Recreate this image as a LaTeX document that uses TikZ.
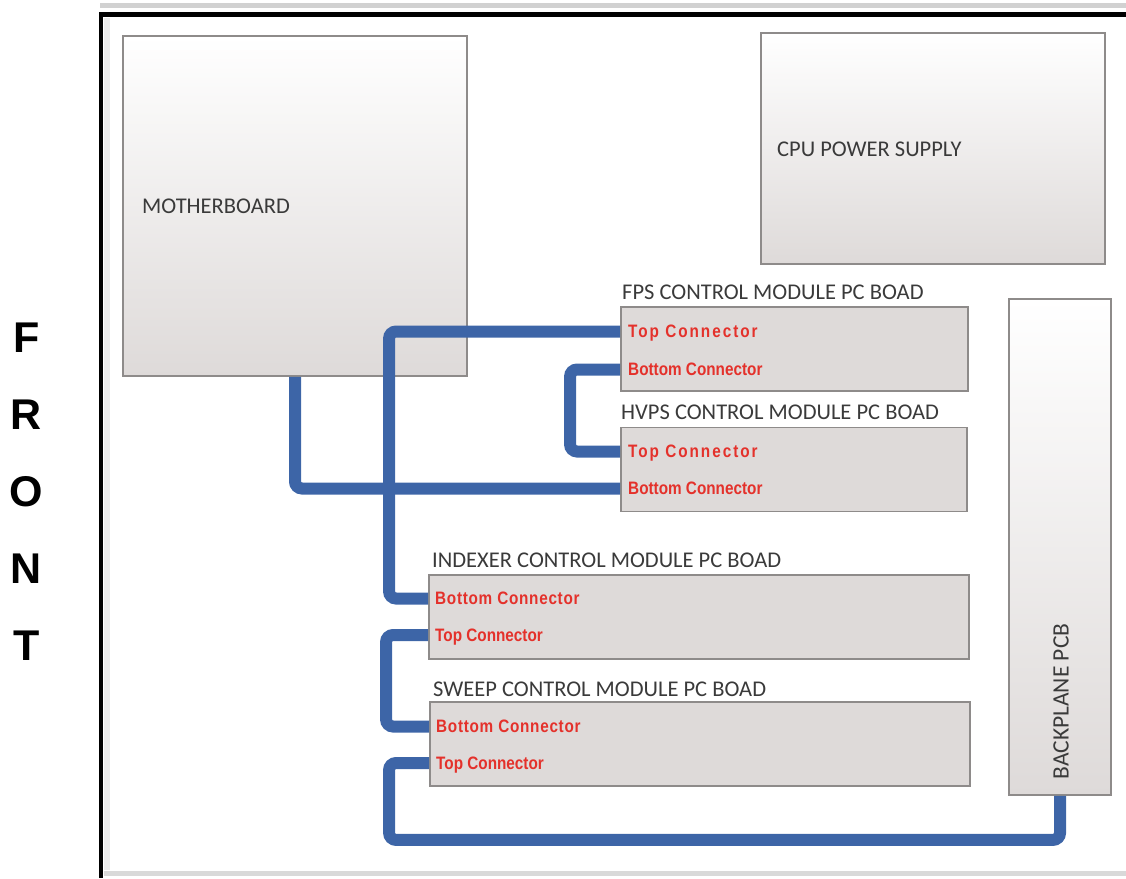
\documentclass[tikz,border=0pt]{standalone}
\usepackage{fontspec}
\setmainfont{Carlito}
\newfontfamily\chassisarial{Liberation Sans}[FakeStretch=0.85]
\newfontfamily\frontarial{Liberation Sans}
\usetikzlibrary{calc}
\definecolor{chassisblue}{HTML}{3D65A7}
\definecolor{chassisedge}{HTML}{8E8B8A}
\definecolor{chassisgrey}{HTML}{DEDAD9}
\definecolor{chassisink}{HTML}{3A3A3A}
\definecolor{chassisred}{HTML}{E4312B}

\begin{document}
\begin{tikzpicture}[x=1pt,y=-1pt,
  unitbox/.style={draw=chassisedge,line width=1.8pt,top color=white,
    middle color=white!55!chassisgrey,bottom color=chassisgrey,inner sep=0pt},
  boardbox/.style={draw=chassisedge,line width=1.8pt,fill=chassisgrey,
    minimum height=84pt,inner sep=0pt},
  boardtitle/.style={anchor=base west,inner sep=0pt,text=chassisink,
    font=\fontsize{22.5}{26}\selectfont},
  portlabel/.style={anchor=west,inner sep=0pt,text height=12.5pt,
    text depth=0pt,text=chassisred,
    font=\chassisarial\bfseries\fontsize{18}{20}\selectfont},
  portspaced/.style={font=\chassisarial\bfseries\fontsize{18}{20}\selectfont
    \addfontfeatures{LetterSpace=#1}},
  cablerun/.style={draw=chassisblue,line width=12pt,rounded corners=7pt},
  frontletter/.style={align=center,inner sep=0pt,
    font=\frontarial\bfseries\fontsize{43}{77}\selectfont}
]
  \useasboundingbox (0,0) rectangle (1126,878);
  % enclosure
  \draw[black!18,line width=5pt] (100,5.5) -- (1126,5.5);
  \draw[black!15,line width=5pt] (104,873) -- (1126,873);
  \draw[black!8,line width=6pt] (107,18) -- (107,870);
  \draw[black,line width=4.5pt] (101,878) |- (1126,14.5);
  \node[frontletter] (front) at (26.5,491.5) {F\\R\\O\\N\\T};

  \node[unitbox,minimum width=344pt,minimum height=340pt] (motherboard)
    at (295,206) {};
  \node[boardtitle] (motherboardlabel) at (142,213) {MOTHERBOARD};
  \node[unitbox,minimum width=344pt,minimum height=231pt] (cpupsu)
    at (933,148.5) {};
  \node[boardtitle] (cpupsulabel) at (777,156) {CPU POWER SUPPLY};
  \node[unitbox,minimum width=102pt,minimum height=496pt] (backplane)
    at (1060,547) {};
  \node[boardtitle,anchor=center,rotate=90,font=\fontsize{23.5}{26}\selectfont]
    (backplanelabel) at (1061,701.5) {BACKPLANE PCB};

  % control module boards
  \node[boardbox,minimum width=347pt] (fps) at (794.5,349) {};
  \node[boardtitle] (fpstitle) at (622,299) {FPS CONTROL MODULE PC BOAD};
  \node[portlabel,portspaced=11] (fpstop) at (628,331.5) {Top Connector};
  \node[portlabel] (fpsbottom) at (628,369.5) {Bottom Connector};

  \node[boardbox,minimum width=346pt] (hvps) at (794,469.5) {};
  \node[boardtitle] (hvpstitle) at (621,419) {HVPS CONTROL MODULE PC BOAD};
  \node[portlabel,portspaced=11] (hvpstop) at (628,451.5) {Top Connector};
  \node[portlabel] (hvpsbottom) at (628,488.5) {Bottom Connector};

  \node[boardbox,minimum width=540pt] (indexer) at (699,617) {};
  \node[boardtitle] (indexertitle) at (432,567)
    {INDEXER CONTROL MODULE PC BOAD};
  \node[portlabel,portspaced=4] (indexerbottom) at (435,598.5)
    {Bottom Connector};
  \node[portlabel] (indexertop) at (435,635) {Top Connector};

  \node[boardbox,minimum width=540pt] (sweep) at (700,744) {};
  \node[boardtitle] (sweeptitle) at (433,696) {SWEEP CONTROL MODULE PC BOAD};
  \node[portlabel,portspaced=4] (sweepbottom) at (436,726.5)
    {Bottom Connector};
  \node[portlabel] (sweeptop) at (436,763) {Top Connector};

  % ribbon cables
  \draw[cablerun] (motherboard.south) |- (hvps.west |- hvpsbottom.west);
  \draw[cablerun] (fps.west |- fpstop.west)
    -| ($(indexer.west |- indexerbottom.west)+(-39,0)$)
    -- (indexer.west |- indexerbottom.west);
  \draw[cablerun] (fps.west |- fpsbottom.west) -- +(-50,0)
    |- (hvps.west |- hvpstop.west);
  \draw[cablerun] (indexer.west |- indexertop.west) -- +(-42,0)
    |- (sweep.west |- sweepbottom.west);
  \draw[cablerun] (sweep.west |- sweeptop.west) -- +(-40,0)
    |- ($(backplane.south)+(0,44)$) -- (backplane.south);
\end{tikzpicture}
\end{document}
